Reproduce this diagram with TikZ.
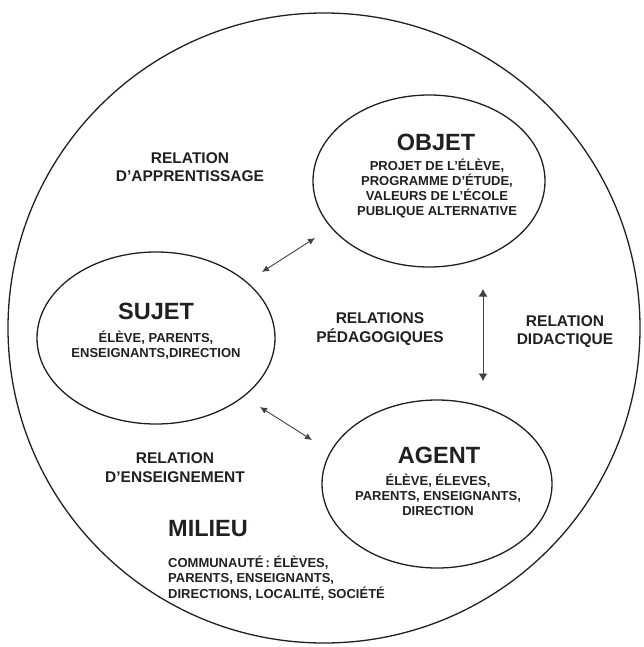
\documentclass[tikz,border=0pt]{standalone}
\usepackage{fontspec}
\setmainfont{Liberation Sans}
\usepackage{xcolor}
\usepackage{tikz}
\usetikzlibrary{shapes.geometric,arrows.meta}
\definecolor{ink}{RGB}{35,31,32}

\begin{document}
\begin{tikzpicture}[x=1pt,y=-1pt,
    bulle/.style={draw=ink,ellipse,line width=1.3pt,inner sep=0pt},
    titre/.style={font=\fontsize{23.5}{28}\selectfont\bfseries,text=ink,anchor=base,inner sep=0pt},
    texte/.style={font=\fontsize{13}{15}\selectfont\bfseries,text=ink,anchor=base,align=center,inner sep=0pt},
    rel/.style={font=\fontsize{15.5}{18.5}\selectfont\bfseries,text=ink,anchor=base,align=center,inner sep=0pt},
    fleche/.style={draw=ink!85,line width=0.9pt,{Latex[length=7pt,width=6.5pt]}-{Latex[length=7pt,width=6.5pt]}}]
      \useasboundingbox (0,0) rectangle (644,647);

      \coordinate (Mil) at (324, 328);
      \coordinate (Obj) at (429, 181);
      \coordinate (Suj) at (156, 338);
      \coordinate (Age) at (437, 484);

      \coordinate (Objt) at (436, 150);
      \coordinate (Objb) at (437, 215);
      \coordinate (Sujt) at (156, 319.4);
      \coordinate (Sujb) at (156, 357);
      \coordinate (Aget) at (439, 463.4);
      \coordinate (Ageb) at (438, 515.6);
      \coordinate (Milt) at (168, 536.4);
      \coordinate (Milb) at (168, 598);

      \coordinate (Rapp) at (190, 182);
      \coordinate (Rens) at (175, 482);
      \coordinate (Rped) at (380, 342.8);
      \coordinate (Rdid) at (565, 344.5);

      \coordinate (SOs) at (262, 272);
      \coordinate (SOo) at (315, 238);
      \coordinate (SAs) at (260, 407);
      \coordinate (SAa) at (312, 440);
      \coordinate (OAo) at (483, 289);
      \coordinate (OAa) at (483, 381);

      \node[bulle, minimum width=632, minimum height=630] (milieu) at (Mil) {};
      \node[bulle, minimum width=232, minimum height=172] (objet) at (Obj) {};
      \node[bulle, minimum width=238, minimum height=172] (sujet) at (Suj) {};
      \node[bulle, minimum width=230, minimum height=168] (agent) at (Age) {};

      \node[titre] (objetT) at (Objt) {OBJET};
      \node[texte, font=\fontsize{13}{14.8}\selectfont\bfseries] (objetB) at (Objb)
      {PROJET DE L’ÉLÈVE,\\ PROGRAMME D’ÉTUDE,\\ VALEURS DE L’ÉCOLE\\ PUBLIQUE ALTERNATIVE};

      \node[titre] (sujetT) at (Sujt) {SUJET};
      \node[texte] (sujetB) at (Sujb) {ÉLÈVE, PARENTS,\\ ENSEIGNANTS,DIRECTION};

      \node[titre] (agentT) at (Aget) {AGENT};
      \node[texte] (agentB) at (Ageb) {ÉLÈVE, ÉLEVES,\\ PARENTS, ENSEIGNANTS,\\ DIRECTION};

      \node[titre, anchor=base west] (milieuT) at (Milt) {MILIEU};
      \node[texte, anchor=base west, align=left, font=\fontsize{13}{15.5}\selectfont\bfseries] (milieuB) at (Milb)
      {COMMUNAUTÉ\,: ÉLÈVES,\\ PARENTS, ENSEIGNANTS,\\ DIRECTIONS, LOCALITÉ, SOCIÉTÉ};

      \node[rel] (apprent) at (Rapp) {RELATION\\ D’APPRENTISSAGE};
      \node[rel] (enseign) at (Rens) {RELATION\\ D’ENSEIGNEMENT};
      \node[rel, font=\fontsize{15.5}{19}\selectfont\bfseries] (pedago) at (Rped) {RELATIONS\\ PÉDAGOGIQUES};
      \node[rel] (didact) at (Rdid) {RELATION\\ DIDACTIQUE};

      \draw[fleche] (SOs) -- (SOo);
      \draw[fleche] (SAs) -- (SAa);
      \draw[fleche, {Latex[length=7.5pt,width=9pt]}-{Latex[length=7.5pt,width=9pt]}] (OAo) -- (OAa);
    \end{tikzpicture}
\end{document}
